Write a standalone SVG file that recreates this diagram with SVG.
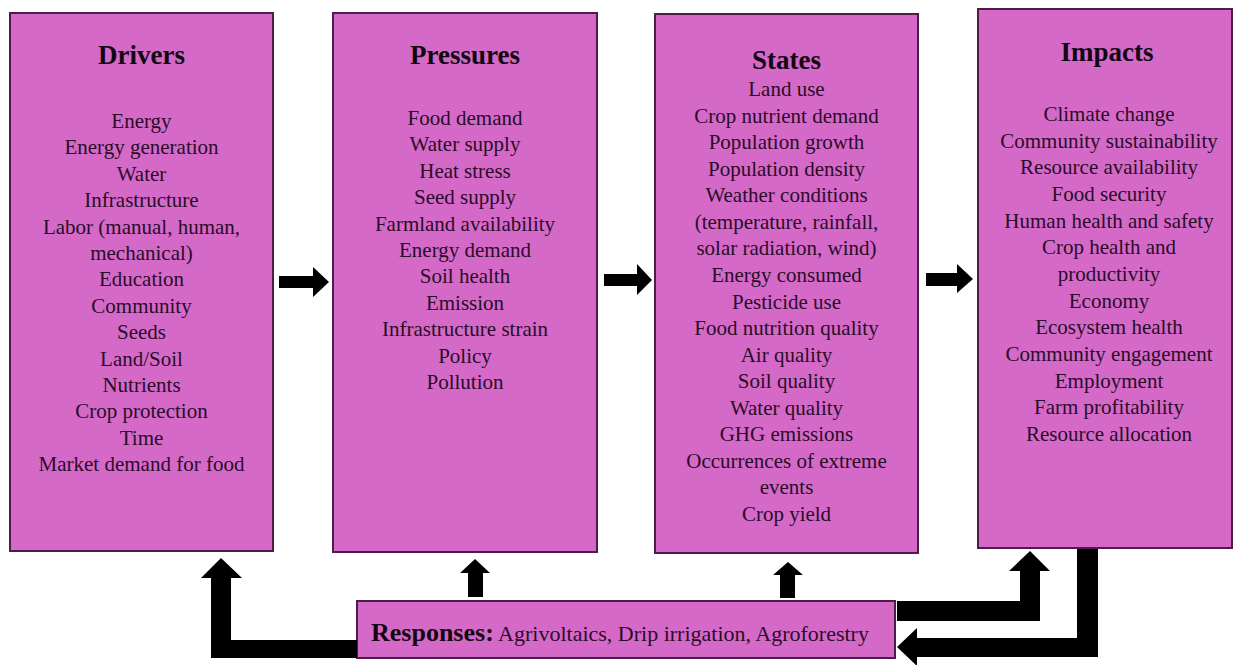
<svg xmlns="http://www.w3.org/2000/svg" width="1239" height="665" viewBox="0 0 1239 665">
<style>
text{font-family:'Liberation Serif','Times New Roman','DejaVu Serif',serif}
.box{fill:#d569c8;stroke:#4d1c47;stroke-width:2}
.t{font-weight:bold;font-size:27px;fill:#120812;text-anchor:middle}
.b{font-size:21px;fill:#2a0c28;text-anchor:middle}
.arr{fill:#000}
</style>
<rect width="1239" height="665" fill="#fff"/>
<g id="drivers" font-family="Liberation Serif, serif">
<rect class="box" x="10" y="13" width="263" height="538"/>
<text class="t" x="141.5" y="64">Drivers</text>
<text class="b" x="141.5" y="128">Energy</text>
<text class="b" x="141.5" y="154.4">Energy generation</text>
<text class="b" x="141.5" y="180.8">Water</text>
<text class="b" x="141.5" y="207.2">Infrastructure</text>
<text class="b" x="141.5" y="233.6">Labor (manual, human,</text>
<text class="b" x="141.5" y="260">mechanical)</text>
<text class="b" x="141.5" y="286.4">Education</text>
<text class="b" x="141.5" y="312.8">Community</text>
<text class="b" x="141.5" y="339.2">Seeds</text>
<text class="b" x="141.5" y="365.6">Land/Soil</text>
<text class="b" x="141.5" y="392">Nutrients</text>
<text class="b" x="141.5" y="418.4">Crop protection</text>
<text class="b" x="141.5" y="444.8">Time</text>
<text class="b" x="141.5" y="471.2">Market demand for food</text>
</g>
<g id="pressures" font-family="Liberation Serif, serif">
<rect class="box" x="333" y="13" width="264" height="539"/>
<text class="t" x="465" y="64">Pressures</text>
<text class="b" x="465" y="125">Food demand</text>
<text class="b" x="465" y="151.4">Water supply</text>
<text class="b" x="465" y="177.8">Heat stress</text>
<text class="b" x="465" y="204.2">Seed supply</text>
<text class="b" x="465" y="230.6">Farmland availability</text>
<text class="b" x="465" y="257">Energy demand</text>
<text class="b" x="465" y="283.4">Soil health</text>
<text class="b" x="465" y="309.8">Emission</text>
<text class="b" x="465" y="336.2">Infrastructure strain</text>
<text class="b" x="465" y="362.6">Policy</text>
<text class="b" x="465" y="389">Pollution</text>
</g>
<g id="states" font-family="Liberation Serif, serif">
<rect class="box" x="655" y="14" width="263" height="539"/>
<text class="t" x="786.5" y="69">States</text>
<text class="b" x="786.5" y="96">Land use</text>
<text class="b" x="786.5" y="122.6">Crop nutrient demand</text>
<text class="b" x="786.5" y="149.1">Population growth</text>
<text class="b" x="786.5" y="175.7">Population density</text>
<text class="b" x="786.5" y="202.2">Weather conditions</text>
<text class="b" x="786.5" y="228.8">(temperature, rainfall,</text>
<text class="b" x="786.5" y="255.4">solar radiation, wind)</text>
<text class="b" x="786.5" y="281.9">Energy consumed</text>
<text class="b" x="786.5" y="308.5">Pesticide use</text>
<text class="b" x="786.5" y="335">Food nutrition quality</text>
<text class="b" x="786.5" y="361.6">Air quality</text>
<text class="b" x="786.5" y="388.2">Soil quality</text>
<text class="b" x="786.5" y="414.7">Water quality</text>
<text class="b" x="786.5" y="441.3">GHG emissions</text>
<text class="b" x="786.5" y="467.8">Occurrences of extreme</text>
<text class="b" x="786.5" y="494.4">events</text>
<text class="b" x="786.5" y="521">Crop yield</text>
</g>
<g id="impacts" font-family="Liberation Serif, serif">
<rect class="box" x="978" y="9" width="254" height="539"/>
<text class="t" x="1107" y="61">Impacts</text>
<text class="b" x="1109" y="121">Climate change</text>
<text class="b" x="1109" y="147.7">Community sustainability</text>
<text class="b" x="1109" y="174.3">Resource availability</text>
<text class="b" x="1109" y="201">Food security</text>
<text class="b" x="1109" y="227.7">Human health and safety</text>
<text class="b" x="1109" y="254.3">Crop health and</text>
<text class="b" x="1109" y="281">productivity</text>
<text class="b" x="1109" y="307.7">Economy</text>
<text class="b" x="1109" y="334.3">Ecosystem health</text>
<text class="b" x="1109" y="361">Community engagement</text>
<text class="b" x="1109" y="387.7">Employment</text>
<text class="b" x="1109" y="414.3">Farm profitability</text>
<text class="b" x="1109" y="441">Resource allocation</text>
</g>
<g id="responses" font-family="Liberation Serif, serif">
<rect class="box" x="357" y="601" width="538" height="57"/>
<text x="371" y="641" font-size="22" fill="#2a0c28"><tspan font-weight="bold" font-size="26" fill="#120812">Responses:</tspan> Agrivoltaics, Drip irrigation, Agroforestry</text>
</g>
<g id="connectors">
<polygon class="arr" points="279,276 313,276 313,267 329,282 313,297 313,288 279,288"/>
<polygon class="arr" points="604,274 637,274 637,264 652,280 637,295 637,286 604,286"/>
<polygon class="arr" points="926,273 957,273 957,264 973,279 957,293 957,286 926,286"/>
<polygon class="arr" points="221,558 242,578 231,578 231,640 357,640 357,658 211,658 211,578 201,578"/>
<polygon class="arr" points="475,559 490,573 483,573 483,597 468,597 468,573 460,573"/>
<polygon class="arr" points="788,562 803,575 795,575 795,598 780,598 780,575 773,575"/>
<polygon class="arr" points="897,601 1020,601 1020,571 1009,571 1030,551 1050,571 1040,571 1040,621 897,621"/>
<polygon class="arr" points="1077,549 1098,549 1098,657 917,657 917,666 897,647 917,628 917,638 1077,638"/>
</g>
</svg>
